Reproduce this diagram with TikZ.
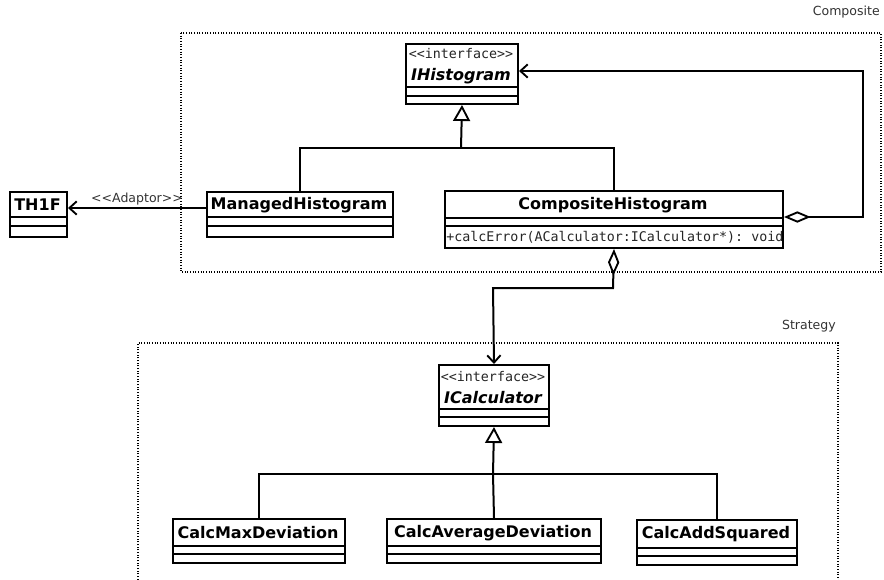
\documentclass[tikz,border=0pt]{standalone}
\usepackage{fontspec}
\setmainfont{DejaVu Sans}
\setmonofont{DejaVu Sans Mono}
\usetikzlibrary{arrows.meta}
\newcommand\lguil{<\kern0pt<}
\newcommand\rguil{>\kern0pt>}
\newcommand\umlclass[8]{%
  \node[classbox, minimum width={(#4-#2)*0.75pt}, minimum height={(#5-#3)*0.75pt}, anchor=north west] (#1) at (#2,#3) {};
  \draw[boxline] (#2,#6) -- (#4,#6);
  \draw[boxline] (#2,#7) -- (#4,#7);
  \node[nametext] (#1-name) at ({(#2+#4)/2},{(#3+#6)/2+1}) {#8};
}
\tikzset{
  classbox/.style={draw, line width=1.5pt, inner sep=0pt, fill=white},
  boxline/.style={line width=1.5pt},
  nametext/.style={font=\fontsize{12}{14}\selectfont\bfseries, inner sep=0pt, align=center},
  stereo/.style={font=\fontsize{10}{12}\selectfont\ttfamily},
  conn/.style={line width=1.5pt, line join=miter},
  frame/.style={line width=1.3pt, dash pattern=on 0.8pt off 1.2pt},
  lbl/.style={font=\fontsize{9.4}{11}\selectfont, text=black!80, inner sep=0pt},
  gen/.style={-{Triangle[open, length=12pt, width=12.75pt, line width=1.4pt]}},
  dep/.style={-{Straight Barb[length=5.5pt, width=10pt, line width=1.4pt]}},
  aggdep/.style={{Diamond[open, length=20pt, width=8.5pt, line width=1.4pt]}-{Straight Barb[length=5.5pt, width=10pt, line width=1.4pt]}},
}
\begin{document}
\begin{tikzpicture}[x=0.75pt,y=-0.75pt]
\useasboundingbox (0,0) rectangle (884,579);

% frames
\draw[frame] (181,33) rectangle (881,272);
\node[lbl, anchor=east] (complbl) at (880,12) {Composite};
\draw[frame] (138,585) -- (138,343) -- (838,343) -- (838,585);
\node[lbl, anchor=east] (strlbl) at (836,326) {Strategy};

% classes
\umlclass{IH}{405}{43}{517}{103}{87}{96}{{\mdseries\upshape\fontsize{10}{12}\selectfont\ttfamily\color{black!85} \lguil interface\rguil}\\[2pt]\itshape IHistogram}
\umlclass{TH}{9}{191}{66}{236}{217}{226}{TH1F}
\umlclass{MH}{206}{191}{392}{236}{217}{226}{ManagedHistogram}
\umlclass{CH}{444}{190}{782}{247}{218}{226}{CompositeHistogram}
\node[stereo, anchor=west, inner sep=0pt, text=black!85] (CHm) at (446,237) {+calcError(ACalculator:ICalculator*): void};
\umlclass{IC}{438}{364}{548}{425}{409}{417}{{\mdseries\upshape\fontsize{10}{12}\selectfont\ttfamily\color{black!85} \lguil interface\rguil}\\[2pt]\itshape ICalculator}
\umlclass{CMD}{172}{518}{344}{562}{546}{554}{CalcMaxDeviation}
\umlclass{CAD}{386}{518}{600}{562}{546}{554}{CalcAverageDeviation}
\umlclass{CAS}{636}{519}{796}{564}{548}{556}{CalcAddSquared}

% generalization to IHistogram
\coordinate (j1) at (461,148);
\draw[conn] (MH.north) |- (j1);
\draw[conn] (CH.north) |- (j1);
\draw[conn, gen] (j1) -- (IH.south);

% adaptor
\draw[conn, dep] ([yshift=-12.75pt]MH.north west) -- ([yshift=-12.75pt]TH.north east) node[lbl, midway, above=1.5pt] (adl) {\lguil Adaptor\rguil};

% aggregation to IHistogram
\coordinate (a1) at (863,217);
\coordinate (a2) at (863,71);
\draw[conn, aggdep] (CH.east |- a1) -- (a1) -- (a2) -- (IH.east |- a2);

% aggregation to ICalculator
\coordinate (b1) at (613,288);
\coordinate (b2) at (493,288);
\draw[conn, aggdep] (CH.south) -- (b1) -- (b2) -- (IC.north);

% generalization to ICalculator
\coordinate (j2) at (493,474);
\draw[conn] (CMD.north) |- (j2);
\draw[conn] (CAS.north) |- (j2);
\draw[conn] (CAD.north) -- (j2);
\draw[conn, gen] (j2) -- (IC.south);
\end{tikzpicture}
\end{document}
